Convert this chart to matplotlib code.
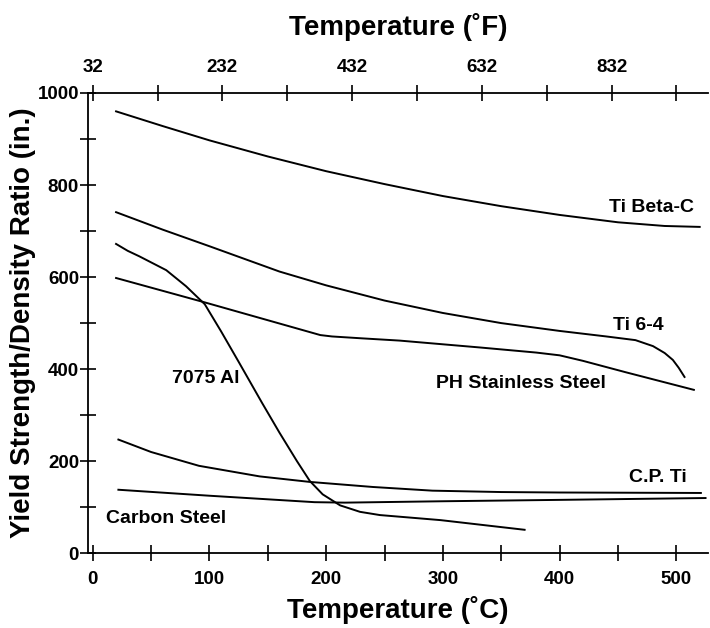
import matplotlib
matplotlib.use("Agg")
import matplotlib.pyplot as plt

plt.rcParams['font.family'] = ['Liberation Sans', 'DejaVu Sans']
plt.rcParams['font.weight'] = 'bold'

# curves: temperature (C) and yield strength / density (in.)
ti_beta_t = [20, 60, 100, 150, 200, 250, 300, 350, 400, 450, 490, 520]
ti_beta_y = [960, 928, 897, 862, 830, 802, 776, 754, 735, 719, 711, 709]

ti64_t = [20, 60, 100, 160, 200, 250, 300, 350, 400, 440, 465, 480, 490, 497, 502, 507]
ti64_y = [741, 703, 667, 612, 582, 549, 522, 500, 483, 471, 463, 450, 435, 420, 403, 383]

ph_t = [20, 96, 195, 205, 230, 263, 332, 380, 400, 420, 457, 515]
ph_y = [598, 545, 474, 471, 467, 462, 447, 436, 430, 418, 393, 355]

al_t = [20, 30, 40, 63, 80, 96, 110, 125, 145, 160, 175, 186, 197, 212, 229, 246, 298, 370]
al_y = [672, 657, 645, 615, 580, 541, 482, 416, 327, 262, 200, 157, 128, 104, 90, 83, 72, 51]

cpti_t = [22, 50, 91, 143, 186, 240, 291, 350, 400, 521]
cpti_y = [247, 220, 190, 167, 155, 144, 136, 133, 132, 131]

steel_t = [22, 100, 190, 216, 300, 400, 525]
steel_y = [138, 125, 111, 110, 113, 116, 120]

curves = [(ti_beta_t, ti_beta_y), (ti64_t, ti64_y), (ph_t, ph_y),
          (al_t, al_y), (cpti_t, cpti_y), (steel_t, steel_y)]

labels = ["Ti Beta-C", "Ti 6-4", "PH Stainless Steel", "7075 Al", "C.P. Ti", "Carbon Steel"]
label_pos = [(479, 752), (467, 495), (367, 368), (97, 380), (484, 164), (63, 76)]

f_ticks = [32, 232, 432, 632, 832]
f_minor = [132, 332, 532, 732, 932]

fig = plt.figure(figsize=(7.1, 6.28), dpi=100)
ax = fig.add_axes([0.124, 0.119, 0.873, 0.733])

for t, y in curves:
    ax.plot(t, y, color='black', lw=1.4, solid_joinstyle='round')

for text, (x, y) in zip(labels, label_pos):
    ax.text(x, y, text, ha='center', va='center', fontsize=14, fontweight='bold')

ax.set_xlim(-4, 527)
ax.set_ylim(0, 1000)
ax.set_xticks(range(0, 501, 100))
ax.set_xticks(range(50, 501, 100), minor=True)
ax.set_yticks(range(0, 1001, 200))
ax.set_yticks(range(100, 1000, 200), minor=True)
ax.spines['right'].set_visible(False)
ax.spines['top'].set_visible(False)
for s in ['left', 'bottom']:
    ax.spines[s].set_linewidth(1.3)
ax.tick_params(which='both', direction='inout', length=11, width=1.2, labelsize=13.5)
ax.tick_params(axis='x', pad=7)
ax.tick_params(axis='y', pad=1)

top = ax.secondary_xaxis('top', functions=(lambda c: c * 9 / 5 + 32, lambda f: (f - 32) * 5 / 9))
top.set_xticks(f_ticks)
top.set_xticks(f_minor, minor=True)
top.spines['top'].set_linewidth(1.3)
top.tick_params(which='both', direction='inout', length=11, width=1.2, labelsize=13.5, pad=7)
top.set_xlabel("Temperature (˚F)", fontsize=20, fontweight='bold', labelpad=17)

ax.set_xlabel("Temperature (˚C)", fontsize=20, fontweight='bold', labelpad=6)
ax.set_ylabel("Yield Strength/Density Ratio (in.)", fontsize=20, fontweight='bold', labelpad=1)

fig.savefig("out.png", dpi=100)
